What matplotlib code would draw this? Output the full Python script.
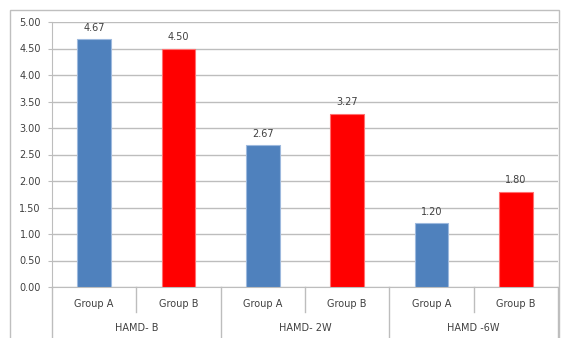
import numpy as np
import matplotlib.pyplot as plt
from matplotlib.patches import Rectangle

# ---- data ----
timepoints = ['HAMD- B', 'HAMD- 2W', 'HAMD -6W']
groups = ['Group A', 'Group B']
group_a = [4.67, 2.67, 1.20]
group_b = [4.50, 3.27, 1.80]
yticks = np.arange(0, 5.01, 0.5)

colors = {'Group A': '#4F81BD', 'Group B': '#FF0000'}
edges = {'Group A': '#9DB9DE', 'Group B': '#FF7070'}
grid_c = '#BDBDBD'
txt_c = '#404040'
fs = 7

W, H = 561, 338
fig = plt.figure(figsize=(W / 100, H / 100), dpi=100)

# outer chart border
fig.patches.append(Rectangle((10 / W, -0.01), 549 / W, 1 - 10 / H + 0.01,
                             transform=fig.transFigure, fill=False,
                             edgecolor='#BFBFBF', linewidth=1.0))

ax = fig.add_axes([52 / W, (H - 287) / H, 506 / W, 265 / H])

vals = []
for a, b in zip(group_a, group_b):
    vals += [a, b]
x = np.arange(len(vals))
bar_cols = [colors[groups[i % 2]] for i in range(len(vals))]
bar_edges = [edges[groups[i % 2]] for i in range(len(vals))]
bars = ax.bar(x, vals, width=0.4, color=bar_cols, edgecolor=bar_edges,
              linewidth=0.8, zorder=3)

for xi, v in zip(x, vals):
    ax.text(xi, v + 0.12, f'{v:.2f}', ha='center', va='bottom',
            fontsize=fs, color=txt_c)

ax.set_xlim(-0.5, len(vals) - 0.5)
ax.set_ylim(0, 5)
ax.set_yticks(yticks)
ax.set_yticklabels([f'{t:.2f}' for t in yticks], fontsize=fs, color=txt_c)
ax.yaxis.grid(True, color=grid_c, linewidth=1.0, zorder=0)
ax.tick_params(axis='y', length=3, color=grid_c, pad=5)
ax.set_xticks([])

for side in ['top', 'right']:
    ax.spines[side].set_visible(False)
ax.spines['left'].set_color(grid_c)
ax.spines['bottom'].set_color(grid_c)

# two-level category axis below the plot
trans = ax.get_xaxis_transform()
px = 1 / 265
for i in range(len(vals) + 1):
    xb = i - 0.5
    if i % 2 == 0:
        y0 = -60 * px
    else:
        y0 = -25 * px
    ax.plot([xb, xb], [0, y0], color=grid_c, linewidth=1.0,
            transform=trans, clip_on=False)
for i in range(len(vals)):
    ax.text(i, -17 * px, groups[i % 2], ha='center', va='center',
            fontsize=fs, color=txt_c, transform=trans)
for j, t in enumerate(timepoints):
    ax.text(2 * j + 0.5, -41 * px, t, ha='center', va='center',
            fontsize=fs, color=txt_c, transform=trans)

fig.savefig('out.png', dpi=100)
